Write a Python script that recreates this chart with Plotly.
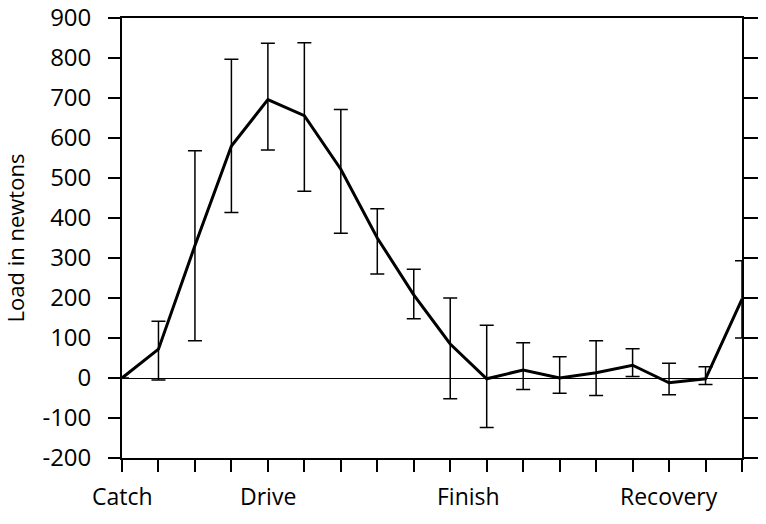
import plotly.graph_objects as go

# Stroke positions (18 equally spaced samples through the rowing stroke)
positions = list(range(18))
load_mean = [0, 72, 331, 580, 696, 656, 522, 350, 208, 85, -2, 20, 0, 13, 32, -12, -2, 197]
load_upper = [None, 142, 568, 797, 837, 838, 671, 423, 272, 200, 132, 88, 53, 93, 73, 37, 28, 293]
load_lower = [None, -5, 93, 414, 570, 467, 362, 260, 148, -52, -124, -29, -38, -44, 4, -42, -16, 100]

phase_labels = ["Catch", "Drive", "Finish", "Recovery"]
phase_positions = [0, 4, 9.5, 15]

y_ticks = [-200, -100, 0, 100, 200, 300, 400, 500, 600, 700, 800, 900]
y_tick_labels = ["-200", "-100", "0", "100", "200", "300", "400", "500", "600", "700", "800", "900"]

err_plus = [None if u is None else u - m for u, m in zip(load_upper, load_mean)]
err_minus = [None if l is None else m - l for l, m in zip(load_lower, load_mean)]

FONT = "Open Sans"

fig = go.Figure()
fig.add_trace(go.Scatter(
    x=positions, y=load_mean, mode="lines",
    line=dict(color="black", width=3),
    error_y=dict(type="data", symmetric=False, array=err_plus, arrayminus=err_minus,
                 color="black", thickness=1.5, width=7),
    showlegend=False,
))
# invisible trace to host the right-hand axis
fig.add_trace(go.Scatter(x=positions, y=load_mean, yaxis="y2", mode="lines",
                         line=dict(color="rgba(0,0,0,0)"), showlegend=False, hoverinfo="skip"))

for lab, pos in zip(phase_labels, phase_positions):
    fig.add_annotation(x=pos, xref="x", y=0, yref="paper", yshift=-20, text=lab,
                       showarrow=False, yanchor="top",
                       font=dict(family=FONT, size=23, color="black"))

fig.update_layout(
    width=766, height=524,
    margin=dict(l=122, r=24, t=18, b=66),
    paper_bgcolor="white", plot_bgcolor="white",
    font=dict(family=FONT, size=23, color="black"),
    xaxis=dict(range=[0, 17], tickvals=positions, ticktext=[""] * len(positions),
               ticks="outside", ticklen=12, tickwidth=1.5, tickcolor="black",
               showline=True, linecolor="black", linewidth=1.8, mirror=True,
               showgrid=False, zeroline=False, automargin=False),
    yaxis=dict(range=[-200, 900], tickvals=y_ticks, ticktext=y_tick_labels,
               ticks="outside", ticklen=12,
               tickwidth=1.5, tickcolor="black", showline=True, linecolor="black",
               linewidth=1.8, showgrid=False, zeroline=True, zerolinecolor="black",
               zerolinewidth=1.2, ticklabelstandoff=12, automargin=False,
               tickfont=dict(family=FONT, size=24, color="black"),
               title=dict(text="Load in newtons", standoff=16,
                          font=dict(family=FONT, size=22, color="black"))),
    yaxis2=dict(range=[-200, 900], tickvals=y_ticks, overlaying="y", side="right",
                ticks="outside", ticklen=14, tickwidth=1.5, tickcolor="black",
                showticklabels=False, showline=True, linecolor="black", linewidth=1.8,
                showgrid=False, zeroline=False, automargin=False),
)

fig.write_html("out.html", config={"displayModeBar": False},
               post_script="document.body.style.margin='0';")
